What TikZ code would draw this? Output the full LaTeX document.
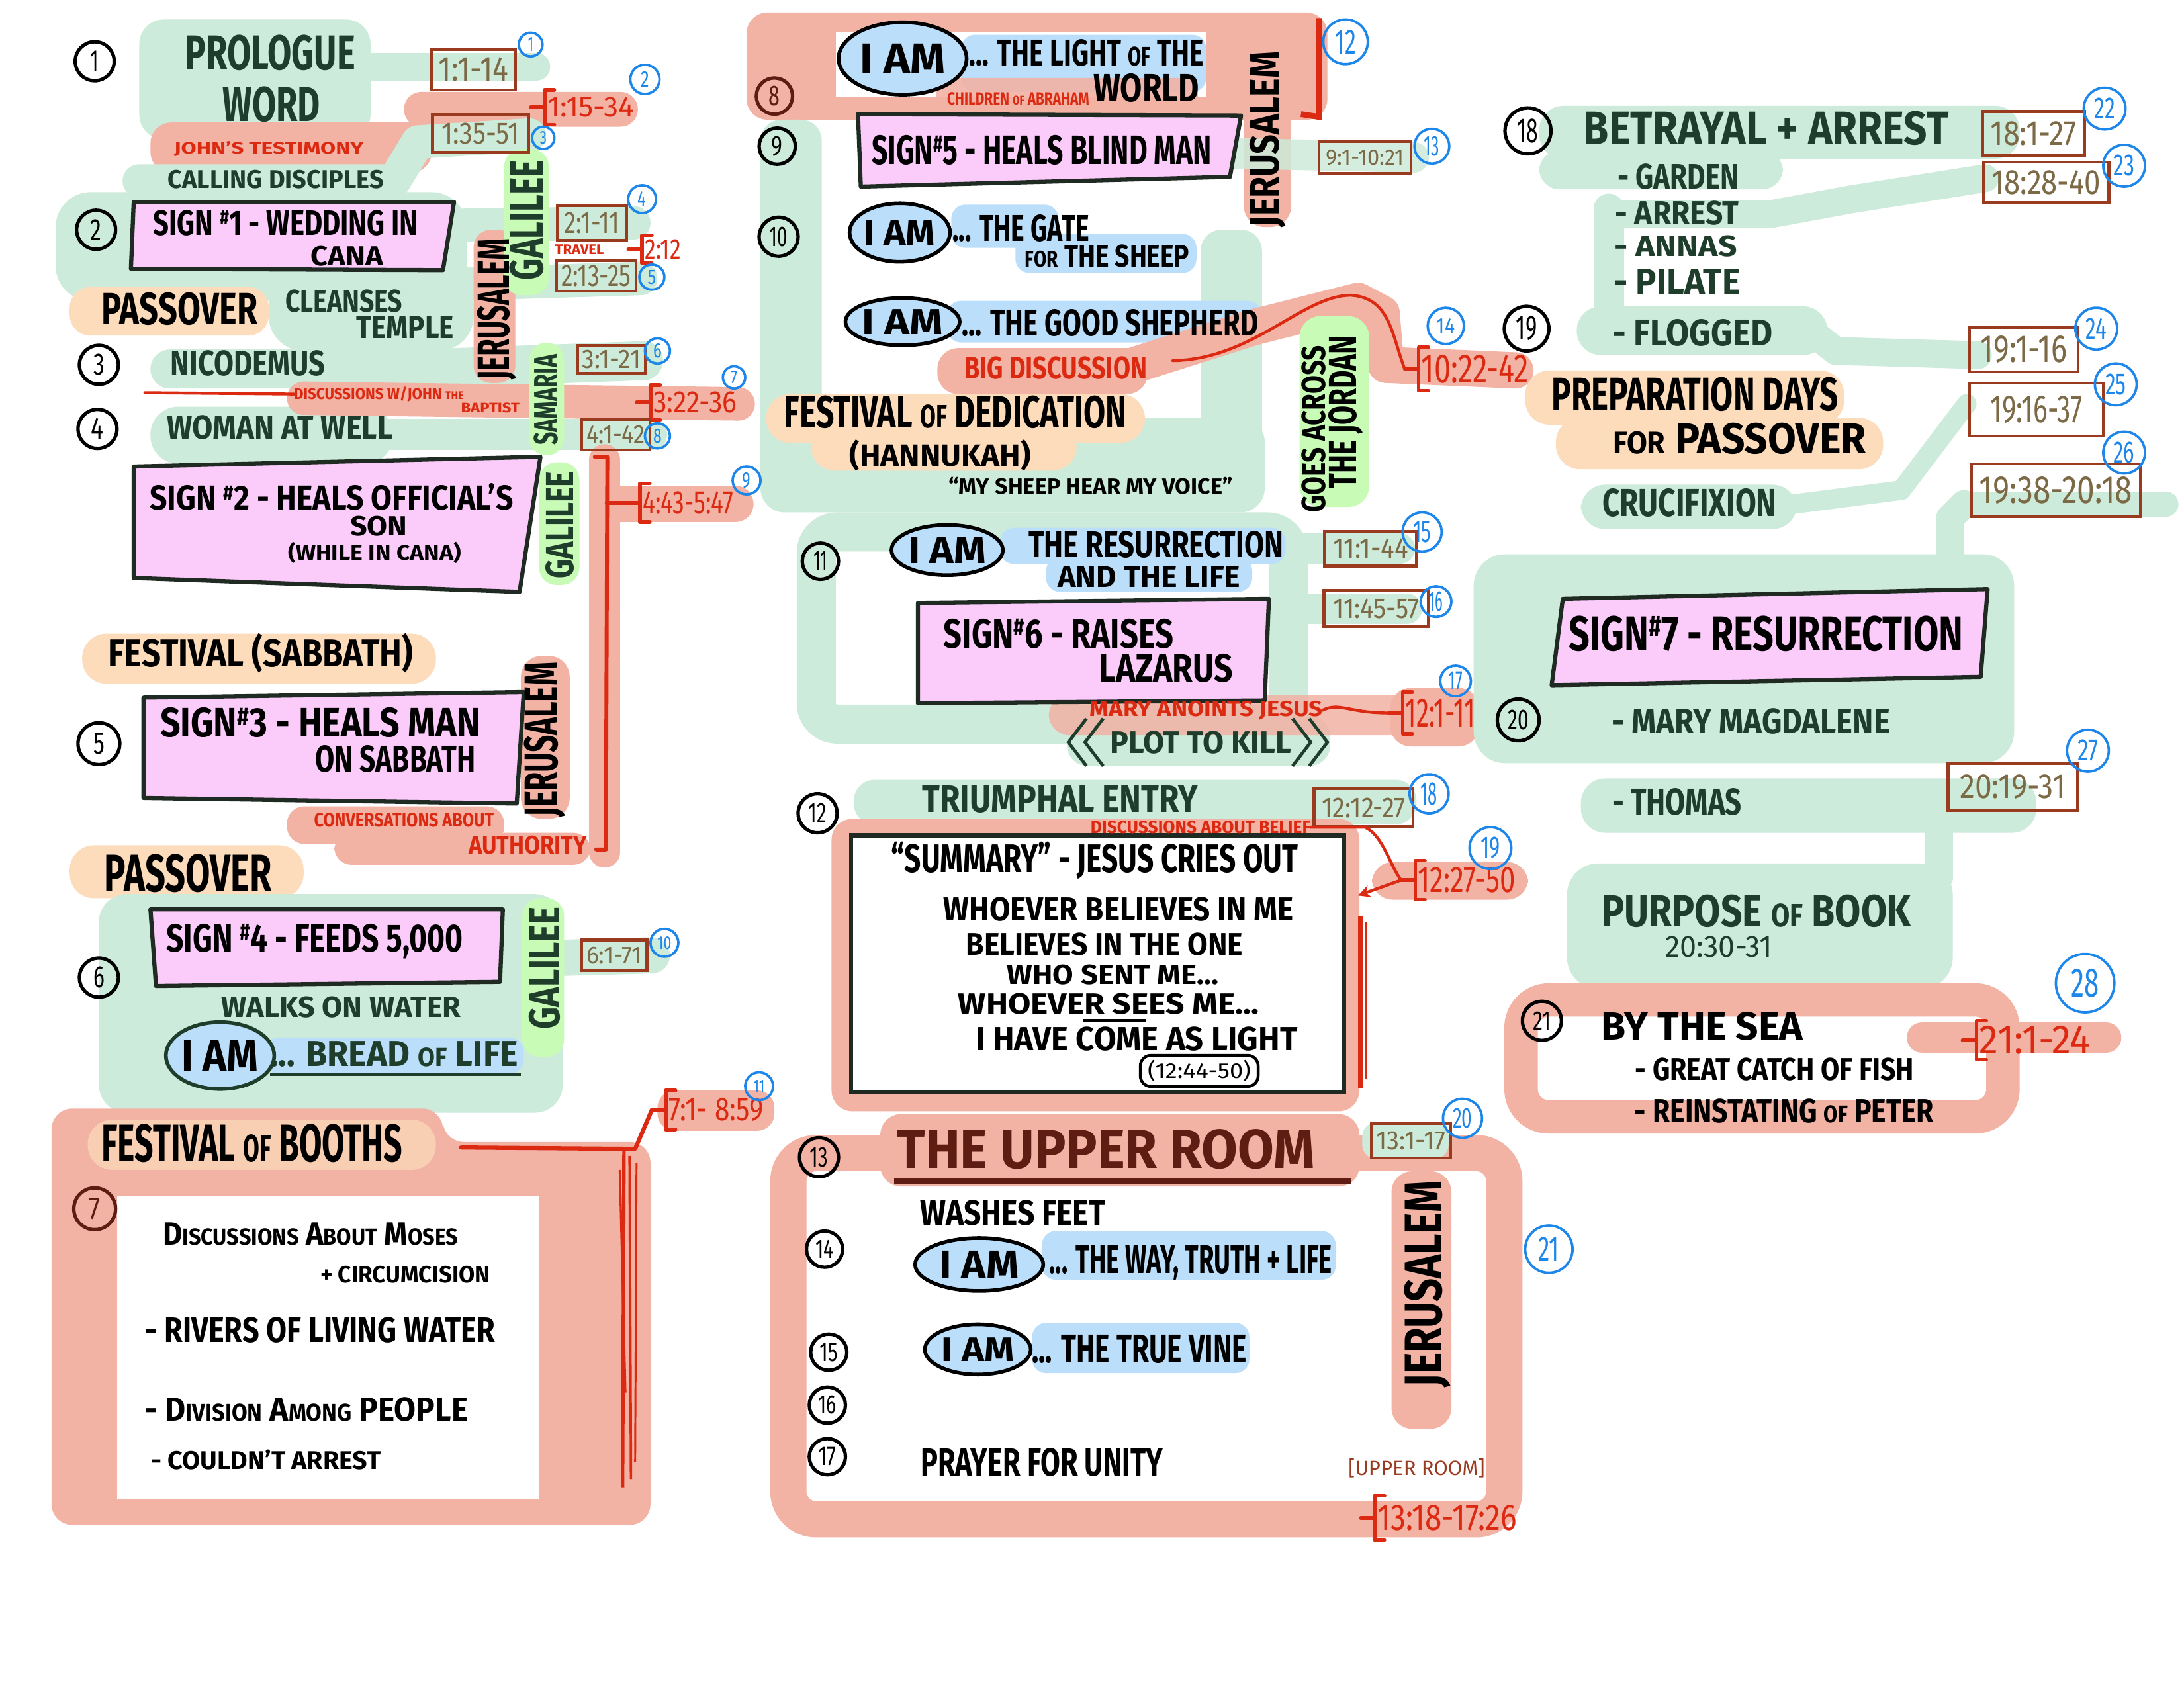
\documentclass[tikz,border=0pt]{standalone}
\usepackage{fontspec}
\setmainfont{Fira Sans}
\usetikzlibrary{shapes.geometric,calc,arrows.meta}
\definecolor{lg}{HTML}{CDEBDA}
\definecolor{og}{HTML}{FDDCBC}
\definecolor{sa}{HTML}{F2B2A4}
\definecolor{pk}{HTML}{FBCBFA}
\definecolor{lb}{HTML}{BBDFFA}
\definecolor{bgr}{HTML}{C8FCB6}
\definecolor{rd}{HTML}{DC2A12}
\definecolor{dg}{HTML}{1F3D2B}
\definecolor{br}{HTML}{9A3B1F}
\definecolor{ol}{HTML}{7C6A46}
\definecolor{bl}{HTML}{1C86EA}
\definecolor{dr}{HTML}{5E1C12}
\definecolor{bx}{HTML}{1E2A22}
\newlength\myun \setlength\myun{0.02cm}
\newcommand\TX[3]{\resizebox{#2\myun}{#1\myun}{\bfseries #3}}
\newcommand\TN[3]{\resizebox{#2\myun}{#1\myun}{#3}}
\newcommand\smx[1]{\scalebox{0.72}{#1}}
\newcommand\myhash{\smash{\raisebox{0.3em}{\scalebox{0.6}{\#}}}}
\tikzset{
  tx/.style={inner sep=0pt, outer sep=0pt},
  num/.style={circle, draw=black, line width=1.4pt, minimum size=#1*0.02cm, inner sep=0pt},
  num/.default=28,
  bnum/.style={circle, draw=bl, text=bl, line width=1pt, minimum size=#1*0.02cm, inner sep=0pt},
  bnum/.default=26,
  refbox/.style={draw=br, line width=1.2pt, text=ol, inner sep=0pt},
  iam/.style={ellipse, draw=black, line width=1.5pt, fill=lb, inner sep=0pt},
  sign/.style={fill=pk, draw=bx, line width=1.7pt, line join=round},
  gb/.style={draw=lg, line width=#1*0.02cm, line cap=round, line join=round},
  gb/.default=24,
  sb/.style={draw=sa, line width=#1*0.02cm, line cap=round, line join=round},
  sb/.default=24,
  rl/.style={draw=rd, line width=1.2pt, line cap=round, line join=round},
  lbl/.style={inner sep=0pt, outer sep=0pt, rotate=90},
}
\newcommand\mycn[7]{\node[num=#4] (#1) at (#2,#3) {\TN{#6}{#7}{#5}};}
\newcommand\mybn[7]{\node[bnum=#4] (#1) at (#2,#3) {\TN{#6}{#7}{#5}};}
\newcommand\myref[8]{\node[refbox, minimum width=#4*0.02cm, minimum height=#5*0.02cm] (#1) at (#2,#3) {\TN{#6}{#7}{#8}};}
\newcommand\myrref[7]{%
  \node[tx, text=rd] (#1) at (#2,#3) {\TN{#4}{#5}{#6}};
  \coordinate (#1d) at ($(#1.west)+(-12,0)$);
  \draw[rl, line width=1.5pt] ($(#1.west)+(5,-#7/2)$) -- ($(#1.west)+(-2,-#7/2)$) -- ($(#1.west)+(-2,#7/2)$) -- ($(#1.west)+(5,#7/2)$);
  \draw[rl, line width=1.5pt] (#1d) -- ($(#1.west)+(-2,0)$);}
\begin{document}
\begin{tikzpicture}[x=0.02cm,y=-0.02cm]
\useasboundingbox (0,0) rectangle (1568,1212);
\fill[white] (0,0) rectangle (1568,1212);

% ================= COLUMN 1 BACKGROUNDS =================
\fill[lg, rounded corners=0.35cm] (100,14) rectangle (266,100);
\draw[gb=20] (262,48) -- (385,48);
\fill[sa, rounded corners=0.3cm] (108,88) rectangle (310,124);
\fill[sa, rounded corners=0.25cm] (290,66) rectangle (458,91);
\draw[gb=24] (100,130) -- (283,130) -- (300,102) -- (380,97);
\fill[lg, rounded corners=0.5cm] (40,138) rectangle (335,216);
\draw[gb=24] (320,162) -- (455,160);
\fill[lg, rounded corners=0.5cm] (193,194) rectangle (340,252);
\draw[gb=24] (330,204) -- (460,200);
\draw[gb=28] (122,265) -- (300,265) -- (462,259);
\fill[lg, rounded corners=0.4cm] (108,292) rectangle (282,333);
\draw[gb=22] (270,312) -- (468,312);
\draw[sb=24] (218,286) -- (370,288) -- (530,290);
\fill[sa, rounded corners=0.25cm] (340,165) rectangle (370,275);
\fill[bgr, rounded corners=0.25cm] (362,107) rectangle (394,212);
\fill[bgr, rounded corners=0.25cm] (380,246) rectangle (405,327);
\fill[bgr, rounded corners=0.25cm] (387,332) rectangle (416,420);
\draw[sb=22] (434,330) -- (434,612);
\draw[sb=26] (440,362) -- (528,362);
\fill[og, rounded corners=0.3cm] (50,206) rectangle (193,241);
\fill[og, rounded corners=0.35cm] (59,455) rectangle (313,491);
\fill[sa, rounded corners=0.3cm] (374,471) rectangle (409,588);
\fill[sa, rounded corners=0.25cm] (206,579) rectangle (362,606);
\fill[sa, rounded corners=0.25cm] (240,598) rectangle (424,621);
\fill[og, rounded corners=0.35cm] (50,607) rectangle (218,645);
\fill[lg, rounded corners=0.4cm] (71,642) rectangle (404,799);
\draw[gb=26] (395,688) -- (468,686);
\fill[bgr, rounded corners=0.25cm] (375,645) rectangle (405,759);
\fill[lb, rounded corners=0.2cm] (190,745) rectangle (376,771);
\fill[sa, rounded corners=0.3cm] (37,796) -- (318,796) -- (318,820) -- (467,820) -- (467,1095) -- (37,1095) -- cycle;
\fill[white] (84,859) rectangle (387,1076);
\fill[og, opacity=0.7, rounded corners=0.35cm] (63,804) rectangle (313,840);
\fill[sa, rounded corners=0.25cm] (472,783) rectangle (556,812);

% ================= COLUMN 2 BACKGROUNDS =================
\fill[sa, rounded corners=0.3cm] (536,9) rectangle (953,86);
\fill[white] (600,23) rectangle (866,70);
\fill[lb, rounded corners=0.2cm] (690,25) rectangle (866,66);
\fill[sa, opacity=0.9, rounded corners=0.2cm] (672,56) rectangle (860,84);
\fill[sa, rounded corners=0.3cm] (893,25) rectangle (927,163);
\fill[lg, rounded corners=0.3cm] (546,86) rectangle (590,350);
\draw[gb=22, opacity=0.85] (880,110) -- (1015,113);
\fill[lg, rounded corners=0.3cm] (862,165) rectangle (906,362);
\fill[lg, rounded corners=0.35cm] (546,300) rectangle (908,368);
\fill[og, rounded corners=0.35cm] (550,283) rectangle (822,318);
\fill[og, rounded corners=0.35cm] (582,305) rectangle (773,338);
\fill[lb, rounded corners=0.2cm] (683,147) rectangle (760,178);
\fill[lb, rounded corners=0.2cm] (729,168) rectangle (859,196);
\fill[lb, rounded corners=0.2cm] (680,216) rectangle (906,246);
\fill[sa, rounded corners=0.3cm] (673,250) rectangle (824,283);
\draw[sb=26] (815,262) -- (900,235) -- (975,216) -- (992,225) -- (995,262) -- (1088,266);
\fill[bgr, rounded corners=0.3cm] (933,227) rectangle (983,364);
\draw[lg, line width=28*0.02cm, rounded corners=0.3cm] (586,382) rectangle (925,520);
\draw[gb=22] (925,394) -- (1005,394);
\draw[gb=22] (925,437) -- (1010,437);
\fill[lg, rounded corners=0.3cm] (766,514) rectangle (955,550);
\fill[sa, opacity=0.85, rounded corners=0.3cm] (753,499) rectangle (1045,528);
\fill[sa, rounded corners=0.3cm] (998,494) rectangle (1062,536);
\fill[lb, rounded corners=0.2cm] (718,379) rectangle (923,405);
\fill[lb, rounded corners=0.2cm] (751,400) rectangle (899,425);
\fill[lg, rounded corners=0.3cm] (613,560) rectangle (1017,592);
\fill[sa, rounded corners=0.3cm] (597,588) rectangle (976,798);
\fill[white] (612,601) rectangle (964,783);
\fill[sa, rounded corners=0.3cm] (985,619) rectangle (1097,646);
\draw[sa, line width=26*0.02cm, rounded corners=0.4cm] (566,828) rectangle (1080,1091);
\fill[sa, rounded corners=0.3cm] (632,800) rectangle (976,852);
\fill[lg, rounded corners=0.2cm] (978,806) rectangle (1040,832);
\fill[sa, rounded corners=0.3cm] (999,841) rectangle (1042,1026);
\fill[lb, rounded corners=0.2cm] (748,884) rectangle (959,919);
\fill[lb, rounded corners=0.2cm] (741,950) rectangle (897,986);

% ================= COLUMN 3 BACKGROUNDS =================
\fill[lg, rounded corners=0.35cm] (1105,76) rectangle (1450,114);
\fill[lg, rounded corners=0.3cm] (1105,108) rectangle (1280,136);
\draw[gb=20] (1160,154) -- (1270,154) -- (1330,143) -- (1425,128);
\draw[gb=22] (1155,150) -- (1155,228);
\fill[lg, rounded corners=0.35cm] (1132,220) rectangle (1312,255);
\draw[gb=20] (1300,238) -- (1318,252) -- (1420,255);
\fill[og, rounded corners=0.35cm] (1095,266) rectangle (1324,305);
\fill[og, rounded corners=0.35cm] (1117,300) rectangle (1352,337);
\fill[lg, rounded corners=0.35cm] (1135,348) rectangle (1290,380);
\draw[gb=14] (1280,363) -- (1365,352) -- (1412,290);
\draw[gb=18] (1410,362) -- (1555,362);
\draw[gb=20] (1410,362) -- (1400,372) -- (1400,408);
\fill[lg, rounded corners=0.45cm] (1058,398) rectangle (1446,548);
\fill[lg, rounded corners=0.35cm] (1135,559) rectangle (1462,598);
\draw[gb=20] (1392,580) -- (1392,630);
\fill[lg, rounded corners=0.45cm] (1125,620) rectangle (1402,710);
\draw[sa, line width=24*0.02cm, rounded corners=0.4cm] (1092,718) rectangle (1438,802);
\draw[sb=22] (1380,745) -- (1512,745);

% ================= SIGN BOXES =================
\filldraw[sign] (96,145) -- (326,145) -- (318,194) -- (94,193) -- cycle;
\filldraw[sign] (96,335) -- (388,328) -- (373,425) -- (96,415) -- cycle;
\filldraw[sign] (103,501) -- (376,497) -- (371,577) -- (103,573) -- cycle;
\filldraw[sign] (108,653) -- (361,653) -- (359,705) -- (112,708) -- cycle;
\filldraw[sign] (616,82) -- (891,83) -- (883,127) -- (618,134) -- cycle;
\filldraw[sign] (659,433) -- (911,430) -- (908,503) -- (659,505) -- cycle;
\filldraw[sign] (1122,430) -- (1427,423) -- (1422,486) -- (1114,492) -- cycle;
\draw[bx, line width=1.8pt] (611,600) rectangle (965,784);

% ================= COLUMN 1 TEXT =================
\mycn{c1}{68}{44}{28}{1}{15}{6}
\mycn{c2}{69}{165}{28}{2}{15}{8}
\mycn{c3}{71}{262}{28}{3}{15}{8}
\mycn{c4}{70}{308}{28}{4}{15}{9}
\mycn{c5}{71}{534}{30}{5}{15}{8}
\mycn{c6}{71}{702}{28}{6}{15}{8}
\node[num=30, draw=dr, text=dr] (c7) at (68,868) {\TN{15}{8}{7}};

\node[tx, text=dg] (prologue) at (194,38) {\TX{25}{122}{PROLOGUE}};
\node[tx, text=dg] (word) at (195,75) {\TX{25}{70}{WORD}};
\node[tx, text=rd] (johntest) at (193,107) {\TX{9}{136}{JOHN'S TESTIMONY}};
\node[tx, text=dg] (calling) at (198,129) {\TX{13}{155}{CALLING DISCIPLES}};
\myref{r1}{340}{50}{60}{29}{17}{50}{1:1-14}
\myrref{r2}{424}{77}{14}{62}{1:15-34}{25}
\myref{r3}{345}{96}{69}{27}{15}{56}{1:35-51}
\node[tx] (s1a) at (205,160) {\TX{18}{190}{SIGN \myhash1 - WEDDING IN}};
\node[tx] (s1b) at (249,184) {\TX{14}{52}{CANA}};
\node[lbl, text=dg] (gal1) at (378,158) {\TX{24}{86}{GALILEE}};
\node[lbl] (jer1) at (357,222) {\TX{23}{101}{JERUSALEM}};
\myref{r4}{425}{160}{50}{25}{15}{40}{2:1-11}
\node[tx, text=rd] (travel) at (416,179) {\TX{7}{35}{TRAVEL}};
\myrref{r5}{476}{179}{14}{26}{2:12}{20}
\myref{r6}{428}{198}{57}{22}{15}{50}{2:13-25}
\node[tx] (pass1) at (129,222) {\TX{23}{112}{PASSOVER}};
\node[tx, text=dg] (cleanses) at (247,216) {\TX{16}{84}{CLEANSES}};
\node[tx, text=dg] (temple) at (291,235) {\TX{16}{70}{TEMPLE}};
\node[tx, text=dg] (nico) at (178,261) {\TX{18}{111}{NICODEMUS}};
\myref{r7}{439}{258}{49}{20}{13}{42}{3:1-21}
\node[lbl, text=dg] (sam) at (392,287) {\TX{17}{65}{SAMARIA}};
\coordinate (dl) at (104,282);
\node[tx, text=rd] (disc1) at (272,283) {\TX{9}{122}{DISCUSSIONS W/JOHN \smx{THE}}};
\draw[rl] (dl) -- (disc1.west);
\node[tx, text=rd] (bapt) at (352,293) {\TX{7}{42}{BAPTIST}};
\myrref{r8}{499}{289}{15}{60}{3:22-36}{25}
\node[tx, text=dg] (woman) at (201,307) {\TX{17}{162}{WOMAN AT WELL}};
\myref{r9}{442}{312}{49}{22}{13}{42}{4:1-42}

\node[tx] (s2a) at (238,357) {\TX{19}{261}{SIGN \myhash2 - HEALS OFFICIAL'S}};
\node[tx] (s2b) at (272,378) {\TX{14}{41}{SON}};
\node[tx] (s2c) at (269,397) {\TX{13}{124}{(WHILE IN CANA)}};
\node[lbl, text=dg] (gal2) at (402,377) {\TX{20}{77}{GALILEE}};
\coordinate (vb1) at (427,328);
\coordinate (vb2) at (428,610);
\draw[rl, line width=1.6pt] (vb1) -- (436,328) -- (435,610) -- (vb2);
\myrref{r10}{494}{361}{16}{65}{4:43-5:47}{28}
\draw[rl, line width=1.5pt] (435.5,361) -- (r10d);
\mybn{b9}{536}{345}{20}{9}{11}{6}

\node[tx] (fest1) at (187,469) {\TX{24}{219}{FESTIVAL (SABBATH)}};
\node[tx] (s3a) at (230,519) {\TX{21}{230}{SIGN\myhash3 - HEALS MAN}};
\node[tx] (s3b) at (284,545) {\TX{19}{115}{ON SABBATH}};
\node[lbl] (jer2) at (391,531) {\TX{24}{111}{JERUSALEM}};
\node[tx, text=rd] (conv) at (290,589) {\TX{10}{129}{CONVERSATIONS ABOUT}};
\node[tx, text=rd] (auth) at (379,607) {\TX{13}{85}{AUTHORITY}};
\node[tx] (pass2) at (135,627) {\TX{27}{120}{PASSOVER}};

\node[tx] (s4) at (226,676) {\TX{20}{213}{SIGN \myhash4 - FEEDS 5,000}};
\node[lbl, text=dg] (gal3) at (391,695) {\TX{22}{88}{GALILEE}};
\myref{r11}{441}{686}{47}{22}{12}{40}{6:1-71}
\node[tx, text=dg] (walks) at (245,723) {\TX{15}{172}{WALKS ON WATER}};
\node[iam, draw=dg, minimum width=70*0.02cm, minimum height=48*0.02cm] (iam1) at (158,758) {\TX{22}{55}{I AM}};
\node[tx, text=dg] (bread) at (283,757) {\TX{18}{178}{... BREAD \smx{OF} LIFE}};
\draw[dg, line width=1.3pt] ($(bread.south west)+(0,5)$) -- ($(bread.south east)+(2,5)$);

\node[tx] (booths) at (181,821) {\TX{27}{216}{FESTIVAL \smx{OF} BOOTHS}};
\node[tx] (t7a) at (223,886) {\TX{16}{212}{D\smx{ISCUSSIONS} A\smx{BOUT} M\smx{OSES}}};
\node[tx] (t7b) at (291,915) {\TX{12}{122}{+ CIRCUMCISION}};
\node[tx] (t7c) at (230,955) {\TX{18}{251}{- RIVERS OF LIVING WATER}};
\node[tx] (t7d) at (220,1012) {\TX{17}{232}{- D\smx{IVISION} A\smx{MONG} PEOPLE}};
\node[tx] (t7e) at (191,1048) {\TX{14}{165}{- COULDN'T ARREST}};
\coordinate (b7a) at (331,824);
\myrref{r12}{514}{797}{16}{68}{7:1- 8:59}{28}
\draw[rl, line width=1.7pt] (b7a) -- (456,825) -- (r12d);
\draw[rd, line width=1.4pt] (448,826) -- (447,1068);
\draw[rd, line width=1pt] (452,830) -- (453,1062);
\draw[rd, line width=0.8pt] (457,835) -- (456,1050);
\draw[rd, line width=0.9pt] (445,840) -- (449,1000);

\mybn{b1}{381}{32}{17}{1}{10}{4}
\mybn{b2}{463}{57}{21}{2}{11}{6}
\mybn{b3}{390}{99}{16}{3}{9}{5}
\mybn{b4}{461}{143}{20}{4}{11}{6}
\mybn{b5}{468}{199}{18}{5}{10}{6}
\mybn{b6}{472}{252}{18}{6}{10}{6}
\mybn{b7}{527}{271}{16}{7}{9}{5}
\mybn{b8}{472}{313}{18}{8}{10}{6}
\mybn{b10}{477}{677}{20}{10}{9}{10}
\mybn{b11}{545}{780}{20}{11}{9}{8}

% ================= COLUMN 2 TEXT =================
\node[num=26, draw=dr, text=dr] (c8) at (556,69) {\TN{14}{8}{8}};
\node[iam, minimum width=92*0.02cm, minimum height=52*0.02cm] (iam8) at (648,42) {\TX{21}{61}{I AM}};
\node[tx] (light) at (780,38) {\TX{19}{168}{... THE LIGHT \smx{OF} THE}};
\node[tx] (world) at (823,63) {\TX{20}{76}{WORLD}};
\node[tx, text=rd] (abraham) at (731,71) {\TX{9}{102}{CHILDREN \smx{OF} ABRAHAM}};
\node[lbl] (jer3) at (910,100) {\TX{21}{126}{JERUSALEM}};
\coordinate (rv1) at (947,13);
\coordinate (rv2) at (934,82);
\draw[rd, line width=2.4pt] (rv1) -- (947,84) -- (rv2);
\mybn{b12}{966}{30}{32}{12}{17}{15}

\mycn{c9}{558}{105}{26}{9}{14}{8}
\node[tx] (s5) at (748,108) {\TX{21}{244}{SIGN\myhash5 - HEALS BLIND MAN}};
\myref{r13}{980}{113}{66}{23}{11}{56}{9:1-10:21}
\mybn{b13}{1028}{105}{25}{13}{14}{11}

\mycn{c10}{559}{170}{28}{10}{14}{13}
\node[iam, minimum width=70*0.02cm, minimum height=42*0.02cm] (iam10) at (646,167) {\TX{18}{51}{I AM}};
\node[tx] (gate) at (733,164) {\TX{19}{98}{... THE GATE}};
\node[tx] (sheep) at (795,184) {\TX{16}{118}{\smx{FOR} THE SHEEP}};
\node[iam, minimum width=80*0.02cm, minimum height=34*0.02cm] (iam10b) at (648,231) {\TX{18}{58}{I AM}};
\node[tx] (shep) at (797,232) {\TX{19}{213}{... THE GOOD SHEPHERD}};
\node[tx, text=rd] (bigd) at (758,264) {\TX{16}{131}{BIG DISCUSSION}};
\coordinate (bd1) at (842,259);
\myrref{r14}{1059}{265}{20}{77}{10:22-42}{31}
\draw[rl] (bd1) .. controls (900,258) and (935,212) .. (970,212) .. controls (998,214) and (999,240) .. (r14d);
\mybn{b14}{1038}{234}{26}{14}{11}{13}
\node[lbl] (goes) at (943,308) {\TX{17}{120}{GOES ACROSS}};
\node[lbl] (jordan) at (966,296) {\TX{20}{110}{THE JORDAN}};
\node[tx] (dedic) at (686,296) {\TX{23}{246}{FESTIVAL \smx{OF} DEDICATION}};
\node[tx] (hann) at (675,327) {\TX{19}{130}{(HANNUKAH)}};
\node[tx] (voice) at (783,349) {\TX{12}{204}{``MY SHEEP HEAR MY VOICE''}};

\mycn{c11}{589}{403}{26}{11}{14}{10}
\node[iam, minimum width=80*0.02cm, minimum height=36*0.02cm] (iam11) at (680,395) {\TX{19}{56}{I AM}};
\node[tx] (resur) at (830,391) {\TX{19}{183}{THE RESURRECTION}};
\node[tx] (life11) at (825,414) {\TX{15}{131}{AND THE LIFE}};
\node[tx] (s6a) at (760,455) {\TX{21}{165}{SIGN\myhash6 - RAISES}};
\node[tx] (s6b) at (837,480) {\TX{20}{96}{LAZARUS}};
\myref{r15}{984}{394}{66}{25}{14}{54}{11:1-44}
\myref{r16}{988}{437}{75}{26}{14}{62}{11:45-57}
\mybn{b15}{1021}{382}{28}{15}{15}{13}
\mybn{b16}{1031}{432}{22}{16}{14}{10}
\node[tx, text=rd] (mary) at (866,510) {\TX{11}{167}{MARY ANOINTS JESUS}};
\myrref{r17}{1034}{512}{20}{50}{12:1-11}{30}
\draw[rl] (mary.east) .. controls (962,504) and (968,512) .. (r17d);
\mybn{b17}{1045}{489}{22}{17}{13}{10}
\node[tx, text=dg] (plot) at (862,533) {\TX{16}{130}{PLOT TO KILL}};
\draw[dg, line width=1.3pt] (780,516) -- (767,533) -- (780,550);
\draw[dg, line width=1.3pt] (792,516) -- (779,533) -- (792,550);
\draw[dg, line width=1.3pt] (928,516) -- (941,533) -- (928,550);
\draw[dg, line width=1.3pt] (940,516) -- (953,533) -- (940,550);

\mycn{c12}{587}{584}{28}{12}{14}{13}
\node[tx, text=dg] (triumph) at (761,574) {\TX{19}{198}{TRIUMPHAL ENTRY}};
\myref{r18}{979}{580}{71}{27}{14}{60}{12:12-27}
\mybn{b18}{1026}{570}{28}{18}{16}{12}
\node[tx, text=rd] (belief) at (862,594) {\TX{9}{158}{DISCUSSIONS ABOUT BELIEF}};
\myrref{r19}{1053}{632}{18}{70}{12:27-50}{28}
\draw[rl] (belief.east) -- (980,594) .. controls (993,600) and (998,622) .. (r19d);
\coordinate (arr) at (975,643);
\draw[rl, -{Stealth[length=5pt,width=5pt]}] (r19d) -- (arr);
\mybn{b19}{1070}{609}{30}{19}{15}{14}
\node[tx] (sum1) at (786,618) {\TX{22}{292}{``SUMMARY'' - JESUS CRIES OUT}};
\node[tx] (sum2) at (803,653) {\TX{17}{251}{WHOEVER BELIEVES IN ME}};
\node[tx] (sum3) at (793,678) {\TX{16}{199}{BELIEVES IN THE ONE}};
\node[tx] (sum4) at (799,700) {\TX{14}{152}{WHO SENT ME...}};
\node[tx] (sum5) at (796,721) {\TX{15}{216}{WHOEVER SEES ME...}};
\draw[line width=1.3pt] (778,733) -- (823,733);
\node[tx] (sum6) at (816,746) {\TX{17}{231}{I HAVE COME AS LIGHT}};
\node[draw, rounded corners=0.15cm, line width=1.2pt, inner xsep=3pt, inner ysep=2pt] (sum7) at (861,769) {\TN{13}{74}{(12:44-50)}};
\draw[rd, line width=2.2pt] (977,658) -- (977,781);
\draw[rd, line width=1pt] (981,662) -- (981,775);

\mycn{c13}{588}{831}{28}{13}{14}{13}
\mycn{c14}{592}{897}{26}{14}{13}{13}
\mycn{c15}{595}{971}{26}{15}{13}{13}
\mycn{c16}{594}{1009}{26}{16}{13}{13}
\mycn{c17}{594}{1046}{26}{17}{13}{13}
\node[tx, text=dr] (upper) at (794,825) {\TX{28}{300}{THE UPPER ROOM}};
\draw[dr, line width=2.4pt] ($(upper.south west)+(-2,9)$) -- ($(upper.south east)+(26,9)$);
\myref{r20}{1013}{819}{57}{25}{13}{50}{13:1-17}
\mybn{b20}{1050}{803}{28}{20}{14}{14}
\node[tx] (washes) at (727,871) {\TX{18}{133}{WASHES FEET}};
\node[iam, minimum width=92*0.02cm, minimum height=38*0.02cm] (iam14) at (703,908) {\TX{20}{57}{I AM}};
\node[tx] (way) at (855,907) {\TX{20}{203}{... THE WAY, TRUTH + LIFE}};
\node[iam, minimum width=76*0.02cm, minimum height=36*0.02cm] (iam15) at (702,969) {\TX{17}{52}{I AM}};
\node[tx] (vine) at (818,969) {\TX{20}{154}{... THE TRUE VINE}};
\node[tx] (prayer) at (748,1050) {\TX{20}{174}{PRAYER FOR UNITY}};
\node[tx, text=br] (uproom) at (1017,1054) {\TN{12}{98}{[UPPER ROOM]}};
\myrref{r21}{1039}{1090}{18}{100}{13:18-17:26}{32}
\node[lbl] (jer4) at (1025,922) {\TX{27}{148}{JERUSALEM}};
\mybn{b21}{1112}{897}{34}{21}{17}{15}

% ================= COLUMN 3 TEXT =================
\mycn{c18}{1097}{94}{33}{18}{17}{15}
\node[tx, text=dg] (betray) at (1268,92) {\TX{24}{262}{BETRAYAL + ARREST}};
\myref{r22}{1460}{96}{73}{32}{17}{62}{18:1-27}
\mybn{b22}{1511}{78}{30}{22}{15}{15}
\myref{r23}{1469}{131}{90}{29}{17}{78}{18:28-40}
\mybn{b23}{1525}{119}{30}{23}{15}{15}
\node[tx, text=dg] (garden) at (1205,127) {\TX{18}{87}{- GARDEN}};
\node[tx, text=dg] (arrest) at (1204,153) {\TX{17}{89}{- ARREST}};
\node[tx, text=dg] (annas) at (1203,177) {\TX{15}{88}{- ANNAS}};
\node[tx, text=dg] (pilate) at (1204,202) {\TX{18}{91}{- PILATE}};
\node[tx, text=dg] (flogged) at (1215,239) {\TX{19}{115}{- FLOGGED}};
\myref{r24}{1453}{251}{78}{32}{19}{62}{19:1-16}
\mybn{b24}{1505}{236}{30}{24}{15}{15}
\mycn{c19}{1096}{236}{32}{19}{17}{15}
\node[tx] (prep) at (1217,283) {\TX{24}{206}{PREPARATION DAYS}};
\node[tx] (forpass) at (1249,315) {\TX{22}{182}{\smx{FOR} PASSOVER}};
\myref{r25}{1462}{294}{96}{38}{19}{66}{19:16-37}
\mybn{b25}{1519}{276}{30}{25}{15}{15}
\node[tx, text=dg] (cruc) at (1213,361) {\TX{20}{125}{CRUCIFIXION}};
\myref{r26}{1476}{352}{121}{38}{19}{110}{19:38-20:18}
\mybn{b26}{1525}{325}{30}{26}{15}{15}
\node[tx] (s7) at (1268,455) {\TX{25}{283}{SIGN\myhash7 - RESURRECTION}};
\mycn{c20}{1090}{517}{30}{20}{14}{15}
\node[tx, text=dg] (magd) at (1257,518) {\TX{18}{200}{- MARY MAGDALENE}};
\node[tx, text=dg] (thomas) at (1204,576) {\TX{19}{93}{- THOMAS}};
\myref{r27}{1445}{565}{93}{34}{17}{76}{20:19-31}
\mybn{b27}{1499}{539}{30}{27}{15}{15}
\node[tx, text=dg] (purpose) at (1261,654) {\TX{23}{222}{PURPOSE \smx{OF} BOOK}};
\node[tx, text=dg] (p2030) at (1234,680) {\TN{15}{77}{20:30-31}};
\mycn{c21}{1107}{733}{28}{21}{13}{13}
\node[tx] (sea) at (1222,737) {\TX{20}{145}{BY THE SEA}};
\node[tx] (fish) at (1274,768) {\TX{16}{200}{- GREAT CATCH OF FISH}};
\node[tx] (peter) at (1281,798) {\TX{17}{215}{- REINSTATING \smx{OF} PETER}};
\myrref{r28}{1461}{747}{20}{80}{21:1-24}{28}
\mybn{b28}{1497}{706}{42}{28}{20}{20}
\end{tikzpicture}
\end{document}
